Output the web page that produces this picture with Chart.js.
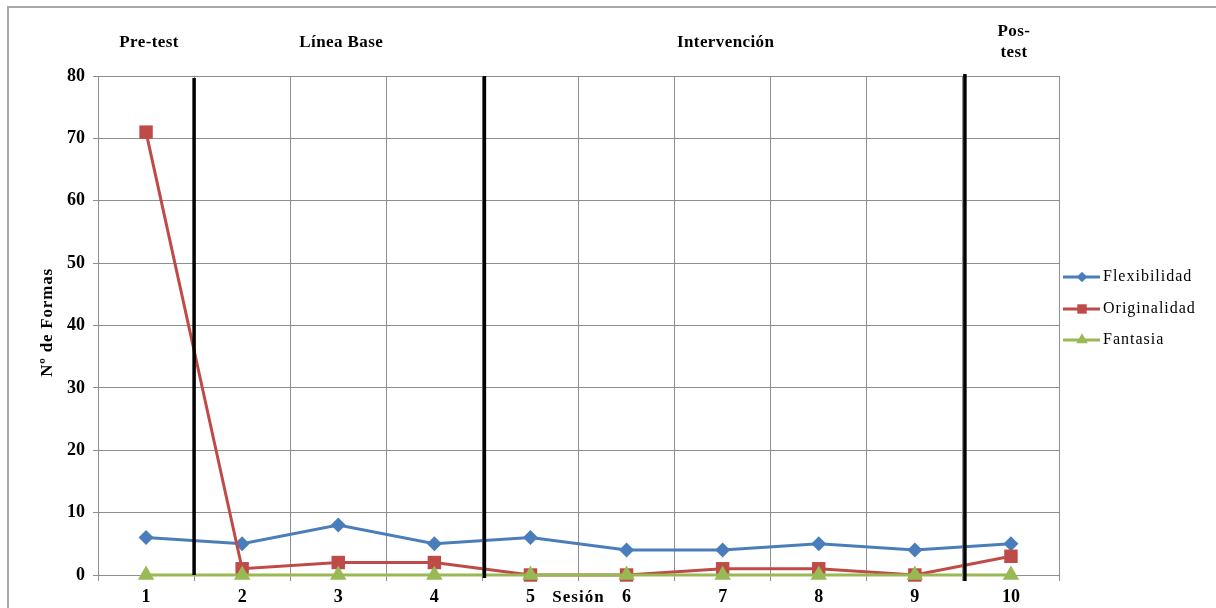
<!DOCTYPE html>
<html><head><meta charset="utf-8">
<script src="https://cdn.jsdelivr.net/npm/chart.js@4/dist/chart.umd.min.js"></script>
<style>html,body{margin:0;padding:0;background:#fff}#wrap{width:1216px;height:608px;position:relative}</style>
</head><body><div id="wrap"><canvas id="c"></canvas></div>
<script>
const sessions = ['1','2','3','4','5','6','7','8','9','10'];
const flexibilidad = [6,5,8,5,6,4,4,5,4,5];
const originalidad = [71,1,2,2,0,0,1,1,0,3];
const fantasia = [0,0,0,0,0,0,0,0,0,0];
const seriesNames = ['Flexibilidad','Originalidad','Fantasia'];
const phaseNames = [['Pre-test'],['Línea Base'],['Intervención'],['Pos-','test']];
const phaseCenters = [0,2,6,9];      // category index under each phase title
const phaseBreaksAfter = [0,3,8];    // thick separator after these category indexes
const axisTitleY = 'Nº de Formas';
const axisTitleX = 'Sesión';

const SERIF = '"Liberation Serif","Times New Roman",serif';
const colors = ['#4a7ebb','#be4b48','#98b954'];
const styles = [
  {pointStyle:'rectRot', radius:7.5},
  {pointStyle:'rect', radius:9.5},
  {pointStyle:'triangle', radius:9.5}
];
const values = [flexibilidad, originalidad, fantasia];

const datasets = values.map((v,i)=>({
  label: seriesNames[i],
  data: v,
  borderColor: colors[i],
  backgroundColor: colors[i],
  borderWidth: 3,
  pointStyle: styles[i].pointStyle,
  pointRadius: styles[i].radius,
  pointHoverRadius: styles[i].radius,
  pointBorderWidth: 0,
  tension: 0,
  clip: false,
  order: 2 - i
}));

const decor = {
  id:'decor',
  beforeDraw(chart){
    const ctx = chart.ctx;
    ctx.save();
    ctx.strokeStyle = '#a8a8a8';
    ctx.lineWidth = 2;
    ctx.beginPath();
    ctx.moveTo(8, 620); ctx.lineTo(8, 7); ctx.lineTo(1230, 7);
    ctx.stroke();
    ctx.restore();
  },
  afterDatasetsDraw(chart){
    const ctx = chart.ctx, x = chart.scales.x, a = chart.chartArea;
    ctx.save();
    ctx.strokeStyle = '#000';
    ctx.lineWidth = 3.5;
    phaseBreaksAfter.forEach((b,k)=>{
      const px = (x.getPixelForValue(b) + x.getPixelForValue(b+1))/2 + (k ? 2 : 0);
      ctx.beginPath();
      ctx.moveTo(px, a.top + 2 - k*2);
      ctx.lineTo(px, a.bottom + k*3);
      ctx.stroke();
    });
    ctx.restore();
  },
  afterDraw(chart){
    const ctx = chart.ctx, x = chart.scales.x, a = chart.chartArea;
    ctx.save();
    ctx.fillStyle = '#000';
    ctx.textAlign = 'center';
    ctx.textBaseline = 'middle';
    ctx.font = 'bold 17px ' + SERIF;
    ctx.letterSpacing = '0.4px';
    phaseNames.forEach((lines,i)=>{
      const px = x.getPixelForValue(phaseCenters[i]) + 3;
      if (lines.length === 1) ctx.fillText(lines[0], px, 43);
      else lines.forEach((t,j)=>ctx.fillText(t, px, 32 + j*21));
    });
    // x title inline with ticks
    ctx.font = 'bold 17px ' + SERIF;
    ctx.letterSpacing = '1px';
    const sx = (x.getPixelForValue(4) + x.getPixelForValue(5))/2;
    ctx.fillText(axisTitleX, sx, 598);
    // y title
    ctx.save();
    ctx.translate(48, (a.top + a.bottom)/2 - 3);
    ctx.rotate(-Math.PI/2);
    ctx.font = 'bold 17px ' + SERIF;
    ctx.letterSpacing = '0.8px';
    ctx.fillText(axisTitleY, 0, 0);
    ctx.restore();
    // legend
    const lx = a.right + 4, rows = [277, 309, 340];
    seriesNames.forEach((n,i)=>{
      const y = rows[i];
      ctx.strokeStyle = colors[i];
      ctx.lineWidth = 3;
      ctx.beginPath(); ctx.moveTo(lx, y); ctx.lineTo(lx + 37, y); ctx.stroke();
      ctx.fillStyle = colors[i];
      Chart.helpers.drawPoint(ctx, {pointStyle: styles[i].pointStyle, radius: styles[i].radius*0.7, rotation:0, borderWidth:0}, lx + 19, y);
      ctx.fillStyle = '#000';
      ctx.textAlign = 'left';
      ctx.font = '16px ' + SERIF;
      ctx.letterSpacing = '1px';
      ctx.fillText(n, lx + 40, y);
    });
    ctx.letterSpacing = '0px';
    ctx.restore();
  }
};

new Chart(document.getElementById('c'), {
  type:'line',
  data:{labels:sessions, datasets},
  options:{
    responsive:true, maintainAspectRatio:false, animation:false,
    devicePixelRatio:1,
    layout:{padding:{top:76, right:157, left:0, bottom:0}},
    plugins:{legend:{display:false}, tooltip:{enabled:false}},
    scales:{
      x:{
        type:'category', offset:true,
        grid:{offset:true, color:'#8e8e8e', lineWidth:1, tickLength:6, drawTicks:true},
        border:{color:'#8e8e8e'},
        ticks:{color:'#000', font:{family:SERIF, size:18, weight:'bold'}, padding:6, maxRotation:0},
        afterFit(s){ s.height = 33; }
      },
      y:{
        min:0, max:80,
        grid:{color:'#8e8e8e', lineWidth:1, tickLength:5},
        border:{color:'#8e8e8e'},
        ticks:{stepSize:10, color:'#000', font:{family:SERIF, size:18, weight:'bold'}, padding:8},
        afterFit(s){ s.width = 98; }
      }
    }
  },
  plugins:[decor]
});
</script>
</body></html>
